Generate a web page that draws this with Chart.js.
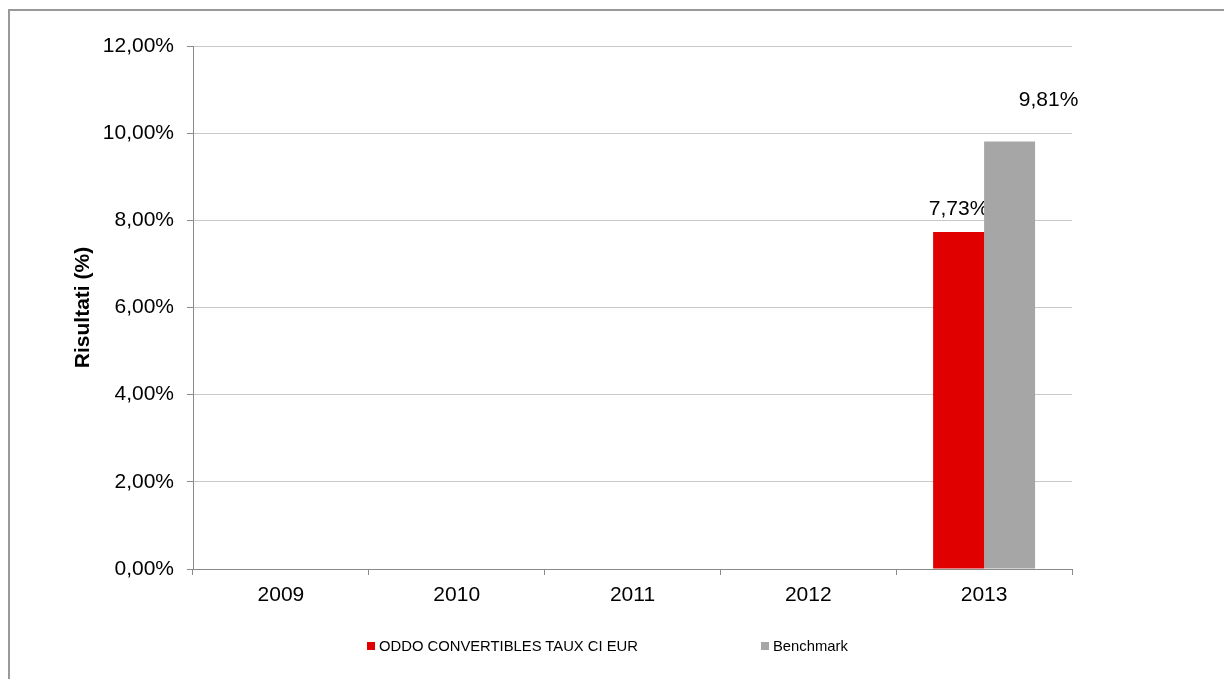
<!DOCTYPE html>
<html>
<head>
<meta charset="utf-8">
<script src="https://cdn.jsdelivr.net/npm/chart.js@4.4.1/dist/chart.umd.min.js"></script>
<style>
  html, body { margin: 0; padding: 0; background: #fff; overflow: hidden; }
  #wrap { position: relative; width: 1224px; height: 679px; overflow: hidden; }
  #frame { position: absolute; left: 8px; top: 9px; width: 1400px; height: 900px; border: 2px solid #999; }
  #myChart { position: absolute; left: 0; top: 0; }
  #legend { position: absolute; left: 367px; top: 638px; display: flex; font-family: "Liberation Sans", Arial, sans-serif; font-size: 14.8px; color: #000; }
  #legend .item { display: flex; align-items: center; margin-right: 123px; }
  #legend .box { width: 8px; height: 8px; margin-right: 4px; }
</style>
</head>
<body>
<div id="wrap">
  <div id="frame"></div>
  <canvas id="myChart" width="1224" height="679"></canvas>
  <div id="legend"></div>
</div>
<script>
const years = ['2009', '2010', '2011', '2012', '2013'];
const fundName = 'ODDO CONVERTIBLES TAUX CI EUR';
const fundValues = [null, null, null, null, 7.73];
const benchName = 'Benchmark';
const benchValues = [null, null, null, null, 9.81];
const yMin = 0, yMax = 12, yStep = 2;

function pct(v) {
    return v.toFixed(2).replace('.', ',') + '%';
}

// labels drawn before the bars so the grey bar covers the red label's tail, like the original
const barLabels = {
    id: 'barLabels',
    beforeDatasetsDraw(chart, args, opts) {
        var ctx = chart.ctx;
        ctx.save();
        ctx.font = '21px "Liberation Sans", Arial, sans-serif';
        ctx.fillStyle = '#000';
        ctx.textAlign = 'center';
        ctx.textBaseline = 'middle';
        chart.data.datasets.forEach(function (ds, i) {
            var meta = chart.getDatasetMeta(i);
            var shift = opts.shift[i];
            meta.data.forEach(function (bar, j) {
                var v = ds.data[j];
                if (v == null) return;
                ctx.fillText(pct(v), bar.x + shift[0], bar.y - shift[1]);
            });
        });
        ctx.restore();
    }
};

var ctx = document.getElementById('myChart').getContext('2d');
var chart = new Chart(ctx, {
    type: 'bar',
    data: {
        labels: years,
        datasets: [
            { label: fundName, data: fundValues, backgroundColor: '#e00000' },
            { label: benchName, data: benchValues, backgroundColor: '#a6a6a6' }
        ]
    },
    options: {
        responsive: false,
        animation: false,
        devicePixelRatio: 1,
        categoryPercentage: 0.58,
        barPercentage: 1,
        layout: { padding: { left: 0, top: 46, right: 152, bottom: 70 } },
        plugins: {
            legend: { display: false },
            tooltip: { enabled: false },
            barLabels: { shift: [[0, 23], [39, 41]] }
        },
        scales: {
            x: {
                grid: { offset: true, drawOnChartArea: false, drawTicks: true, tickLength: 6, tickColor: '#8a8a8a' },
                border: { color: '#8a8a8a', width: 1 },
                ticks: { color: '#000', padding: 8, font: { family: '"Liberation Sans", Arial, sans-serif', size: 21 } },
                afterFit: function (s) { s.height = 40; }
            },
            y: {
                min: yMin,
                max: yMax,
                grid: {
                    color: function (c) { return c.tick && c.tick.value === 0 ? 'rgba(0,0,0,0)' : '#c9c9c9'; },
                    tickColor: '#8a8a8a',
                    tickLength: 6
                },
                border: { color: '#8a8a8a', width: 1 },
                ticks: {
                    stepSize: yStep,
                    color: '#000',
                    padding: 13,
                    font: { family: '"Liberation Sans", Arial, sans-serif', size: 21 },
                    callback: function (v) { return pct(v); }
                },
                title: {
                    display: true,
                    text: 'Risultati (%)',
                    color: '#000',
                    padding: { top: 71, bottom: 0 },
                    font: { family: '"Liberation Sans", Arial, sans-serif', size: 21, weight: 'bold' }
                },
                afterFit: function (s) { s.width = 193; }
            }
        }
    },
    plugins: [barLabels]
});

// legend under the chart, built from the datasets
var legend = document.getElementById('legend');
chart.data.datasets.forEach(function (ds) {
    var item = document.createElement('div');
    item.className = 'item';
    var box = document.createElement('span');
    box.className = 'box';
    box.style.background = ds.backgroundColor;
    var txt = document.createElement('span');
    txt.textContent = ds.label;
    item.appendChild(box);
    item.appendChild(txt);
    legend.appendChild(item);
});
</script>
</body>
</html>
